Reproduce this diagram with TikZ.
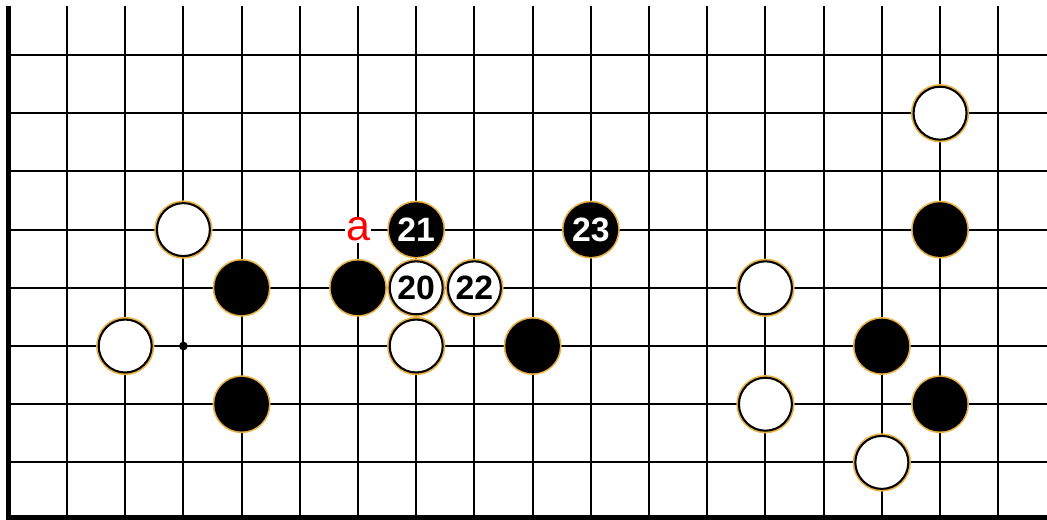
\documentclass[tikz,border=0pt]{standalone}
\usepackage{fontspec}
\setmainfont{Liberation Sans}
\definecolor{rim}{RGB}{232,178,70}
\begin{document}
\begin{tikzpicture}[
  x=1cm, y=1cm,
  every node/.style={circle, inner sep=0pt, minimum size=9.1mm, font=\bfseries\fontsize{16.5}{16.5}\selectfont},
  black stone/.style={fill=black, draw=black, line width=0.8pt, preaction={draw=rim, line width=2.4pt}, text=white},
  white stone/.style={fill=white, draw=black, line width=1pt, preaction={draw=rim, line width=2.6pt}, text=black},
  hoshi/.style={fill=black, minimum size=1.5mm},
  letter/.style={rectangle, minimum size=0pt, inner sep=0.6pt, fill=white, text=red, font=\fontsize{21}{21}\selectfont},
  grid line/.style={line width=1pt},
  edge line/.style={line width=2.5pt}
]
  \useasboundingbox (-1.151,-7.973) rectangle (16.838,0.945);
  \fill[white] (-1.151,-7.973) rectangle (16.838,0.945);
  % board
  \foreach \k in {0,...,16} \draw[grid line] (\k,0.84) -- (\k,-7.94);
  \foreach \j in {0,...,7} \draw[grid line] (-1,-\j) -- (16.84,-\j);
  \draw[edge line] (-1,0.84) -- (-1,-7.95) -- (16.84,-7.95);
  \node[hoshi] (hoshi) at (2,-5) {};
  % stones
  \node[white stone] (w1) at (15,-1) {};
  \node[white stone] (w2) at (2,-3) {};
  \node[black stone] (b21) at (6,-3) {21};
  \node[black stone] (b23) at (9,-3) {23};
  \node[black stone] (b1) at (15,-3) {};
  \node[black stone] (b2) at (3,-4) {};
  \node[black stone] (b3) at (5,-4) {};
  \node[white stone] (w20) at (6,-4) {20};
  \node[white stone] (w22) at (7,-4) {22};
  \node[white stone] (w3) at (12,-4) {};
  \node[white stone] (w4) at (1,-5) {};
  \node[white stone] (w5) at (6,-5) {};
  \node[black stone] (b4) at (8,-5) {};
  \node[black stone] (b5) at (14,-5) {};
  \node[black stone] (b6) at (3,-6) {};
  \node[white stone] (w6) at (12,-6) {};
  \node[black stone] (b7) at (15,-6) {};
  \node[white stone] (w7) at (14,-7) {};
  \node[letter] (a) at (5,-3) {a};
\end{tikzpicture}
\end{document}
